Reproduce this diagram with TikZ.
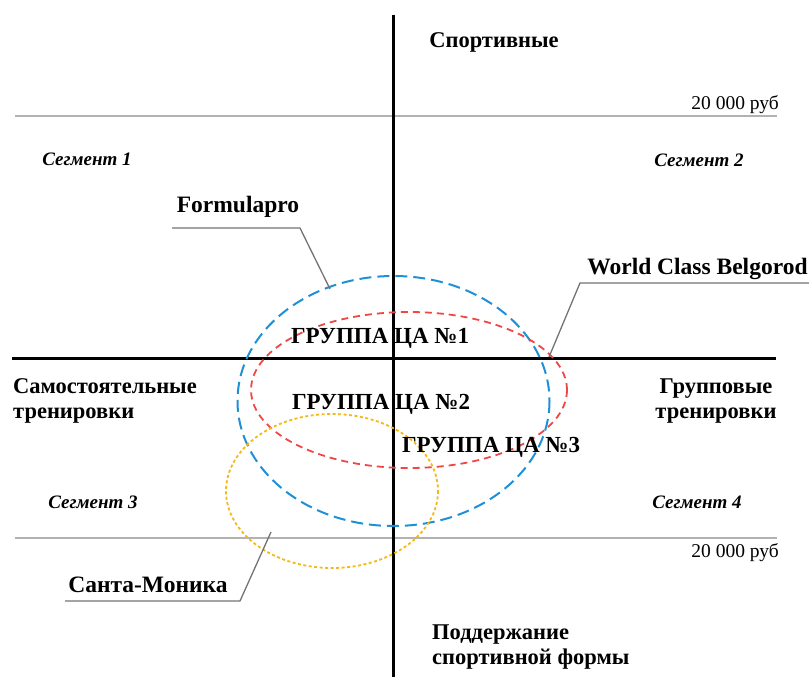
\documentclass[tikz,border=0pt]{standalone}
\usepackage{fontspec}
\setmainfont{Liberation Serif}
\begin{document}
\begin{tikzpicture}[x=1pt,y=-1pt,
  axis/.style={line width=3pt,black},
  grid/.style={line width=2pt,black!30},
  lead/.style={line width=1.3pt,black!55},
  ttl/.style={font=\bfseries\fontsize{22.5}{25.5}\selectfont,inner sep=0pt,align=left},
  lbl/.style={font=\bfseries\fontsize{23.5}{26}\selectfont,inner sep=0pt},
  grp/.style={font=\bfseries\fontsize{23}{26}\selectfont,inner sep=0pt},
  seg/.style={font=\bfseries\itshape\fontsize{19}{22}\selectfont,inner sep=0pt},
  rub/.style={font=\fontsize{19.5}{22}\selectfont,inner sep=0pt,anchor=base east},
]
\useasboundingbox (0,0) rectangle (809,677);
% grid lines
\coordinate (g1l) at (15,116); \coordinate (g1r) at (777,116);
\coordinate (g2l) at (15,538); \coordinate (g2r) at (777,538);
\draw[grid] (g1l) -- (g1r);
\draw[grid] (g2l) -- (g2r);
% axes
\coordinate (vt) at (393,15); \coordinate (vb) at (393,677);
\coordinate (hl) at (12,358); \coordinate (hr) at (776,358);
\draw[axis] (vt) -- (vb);
\draw[axis] (hl) -- (hr);
% ellipses
\draw[line width=2pt,color={rgb,255:red,30;green,144;blue,214},dash pattern=on 12pt off 6pt] (393.5,401) ellipse [x radius=156,y radius=125];
\draw[line width=1.8pt,color={rgb,255:red,240;green,70;blue,70},dash pattern=on 7pt off 5pt] (409,390) ellipse [x radius=158,y radius=78];
\draw[line width=1.8pt,color={rgb,255:red,245;green,185;blue,20},dash pattern=on 3pt off 2.5pt] (332,491) ellipse [x radius=106,y radius=77];
% axis labels
\node[ttl] (sport) at (494,42) {Спортивные};
\node[ttl,anchor=west] (podd) at (432,647) {Поддержание\\спортивной формы};
\node[ttl,anchor=west] (samo) at (13,401) {Самостоятельные\\тренировки};
\node[ttl,align=center] (grup) at (716,401) {Групповые\\тренировки};
% prices
\node[rub] (r1) at (779,110) {20 000 руб};
\node[rub] (r2) at (779,557) {20 000 руб};
% segments
\node[seg] (s1) at (87,159) {Сегмент 1};
\node[seg] (s2) at (699,160) {Сегмент 2};
\node[seg] (s3) at (93,502) {Сегмент 3};
\node[seg] (s4) at (697,502) {Сегмент 4};
% groups
\node[grp] (ga) at (380,338) {ГРУППА ЦА №1};
\node[grp] (gb) at (381,404) {ГРУППА ЦА №2};
\node[grp] (gc) at (491,447) {ГРУППА ЦА №3};
% leader labels
\node[lbl] (fp) at (238,207) {Formulapro};
\node[lbl] (wc) at (697.5,269) {World Class Belgorod};
\node[lbl] (sm) at (148,585) {Санта-Моника};
\coordinate (fp1) at (172,228); \coordinate (fp2) at (300,228); \coordinate (fp3) at (330,289);
\draw[lead] (fp1) -- (fp2) -- (fp3);
\coordinate (wc1) at (809,283); \coordinate (wc2) at (580,283); \coordinate (wc3) at (549,357);
\draw[lead] (wc1) -- (wc2) -- (wc3);
\coordinate (sm1) at (65,601); \coordinate (sm2) at (240,601); \coordinate (sm3) at (271,532);
\draw[lead] (sm1) -- (sm2) -- (sm3);
\end{tikzpicture}
\end{document}
